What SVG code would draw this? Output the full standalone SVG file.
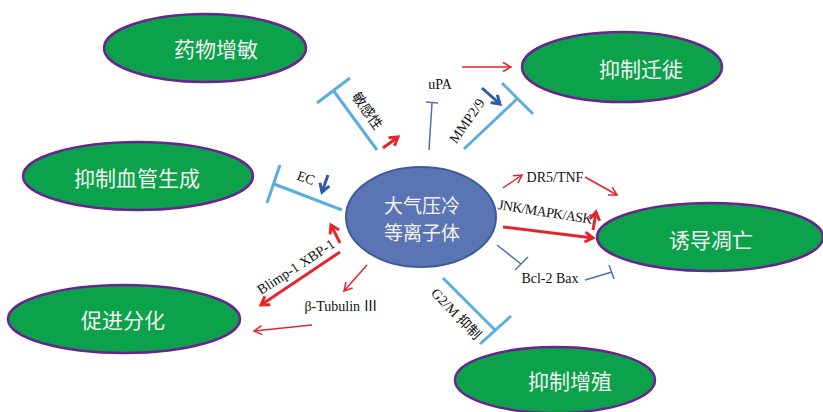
<svg xmlns="http://www.w3.org/2000/svg" width="823" height="412" viewBox="0 0 823 412">
<defs>
<style>
.g{fill:#0BA24B;stroke:#6A2390;stroke-width:2.5}
.gt{font-family:"Noto Sans CJK SC","Noto Sans",sans-serif;font-size:21px;fill:#F2F2F2;text-anchor:middle;dominant-baseline:central}
.lb{font-family:"Liberation Serif","Noto Sans CJK SC",serif;font-size:14px;fill:#111;text-anchor:middle;dominant-baseline:central}
.rt{stroke:#E3262B;stroke-width:1.5;fill:none;marker-end:url(#art)}
.rk{stroke:#E3262B;stroke-width:3;fill:none;marker-end:url(#ark)}
.bk{stroke:#2E5AA8;stroke-width:3;fill:none;marker-end:url(#abk)}
.lt{stroke:#5AAEDF;stroke-width:3;fill:none}
.db{stroke:#4F6FB0;stroke-width:1.5;fill:none}
</style>
<marker id="art" markerWidth="12" markerHeight="12" refX="10" refY="6" orient="auto" markerUnits="userSpaceOnUse"><path d="M2,1.5 L10,6 L2,10.5" fill="none" stroke="#E3262B" stroke-width="1.5"/></marker>
<marker id="ark" markerWidth="14" markerHeight="14" refX="11" refY="7" orient="auto" markerUnits="userSpaceOnUse"><path d="M3,2 L11,7 L3,12" fill="none" stroke="#E3262B" stroke-width="3"/></marker>
<marker id="abk" markerWidth="14" markerHeight="14" refX="11" refY="7" orient="auto" markerUnits="userSpaceOnUse"><path d="M3,2 L11,7 L3,12" fill="none" stroke="#2E5AA8" stroke-width="3"/></marker>
</defs>
<rect width="823" height="412" fill="#fff"/>

<g id="n-center">
<ellipse cx="421" cy="217" rx="75" ry="50" fill="#5A74B4" stroke="#3F5C9A" stroke-width="2"/>
<text class="gt" x="422" y="204" style="font-size:19px">大气压冷</text>
<text class="gt" x="422" y="231" style="font-size:19px">等离子体</text>
</g>
<g id="n-drug">
<ellipse class="g" cx="205" cy="48" rx="101" ry="34"/>
<text class="gt" x="216" y="48">药物增敏</text>
</g>
<g id="n-migration">
<ellipse class="g" cx="622" cy="67" rx="100" ry="35"/>
<text class="gt" x="641" y="68">抑制迁徙</text>
</g>
<g id="n-angio">
<ellipse class="g" cx="138" cy="176" rx="115" ry="34"/>
<text class="gt" x="137" y="177">抑制血管生成</text>
</g>
<g id="n-diff">
<ellipse class="g" cx="124" cy="319" rx="116" ry="34"/>
<text class="gt" x="123" y="319">促进分化</text>
</g>
<g id="n-prolif">
<ellipse class="g" cx="555" cy="380" rx="100" ry="33"/>
<text class="gt" x="570" y="380">抑制增殖</text>
</g>
<g id="n-apop">
<ellipse class="g" cx="710" cy="237" rx="113" ry="34"/>
<text class="gt" x="711" y="239">诱导凋亡</text>
</g>

<g id="connectors">
<line class="lt" x1="377" y1="150" x2="333" y2="90"/>
<line class="lt" x1="317" y1="103" x2="350" y2="78"/>
<line class="rk" x1="383" y1="148" x2="398" y2="137"/>
<line class="rt" x1="462" y1="67" x2="511" y2="67"/>
<line class="db" x1="429" y1="150" x2="432" y2="103"/>
<line class="db" x1="426" y1="102" x2="438" y2="103"/>
<line class="lt" x1="464" y1="149" x2="518" y2="98"/>
<line class="lt" x1="502" y1="83" x2="533" y2="114"/>
<line class="bk" x1="482" y1="88" x2="500" y2="104"/>
<line class="lt" x1="342" y1="210" x2="274" y2="184"/>
<line class="lt" x1="280" y1="165" x2="267" y2="203"/>
<line class="bk" x1="328" y1="175" x2="322" y2="192"/>
<line class="rk" x1="340" y1="243" x2="331" y2="225"/>
<line class="rk" x1="340" y1="252" x2="261" y2="305"/>
<line class="rt" x1="367" y1="265" x2="344" y2="291"/>
<line class="rt" x1="312" y1="325" x2="254" y2="331"/>
<line class="rt" x1="503" y1="188" x2="522" y2="175"/>
<line class="rt" x1="585" y1="177" x2="617" y2="195"/>
<line class="rk" x1="503" y1="227" x2="593" y2="238"/>
<line class="rk" x1="593" y1="230" x2="596" y2="212"/>
<line class="db" x1="497" y1="245" x2="521" y2="264"/>
<line class="db" x1="515" y1="270" x2="528" y2="257"/>
<line class="db" x1="585" y1="280" x2="612" y2="272"/>
<line class="db" x1="609" y1="265" x2="614" y2="279"/>
<line class="lt" x1="443" y1="278" x2="495" y2="330"/>
<line class="lt" x1="480" y1="344" x2="511" y2="316"/>
</g>

<g id="labels">
<text class="lb" x="0" y="0" transform="translate(367,111) rotate(55)">敏感性</text>
<text class="lb" x="440" y="84">uPA</text>
<text class="lb" x="0" y="0" transform="translate(467,121) rotate(-55)">MMP2/9</text>
<text class="lb" x="0" y="0" transform="translate(306,178) rotate(20)">EC</text>
<text class="lb" x="0" y="0" transform="translate(296,267) rotate(-33)">Blimp-1 XBP-1</text>
<text class="lb" x="341" y="306">β-Tubulin Ⅲ</text>
<text class="lb" x="555" y="177">DR5/TNF</text>
<text class="lb" x="0" y="0" transform="translate(545,212) rotate(9)" style="letter-spacing:-0.6px">JNK/MAPK/ASK</text>
<text class="lb" x="550" y="278">Bcl-2 Bax</text>
<text class="lb" x="0" y="0" transform="translate(456,314) rotate(46)">G2/M 抑制</text>
</g>
</svg>
